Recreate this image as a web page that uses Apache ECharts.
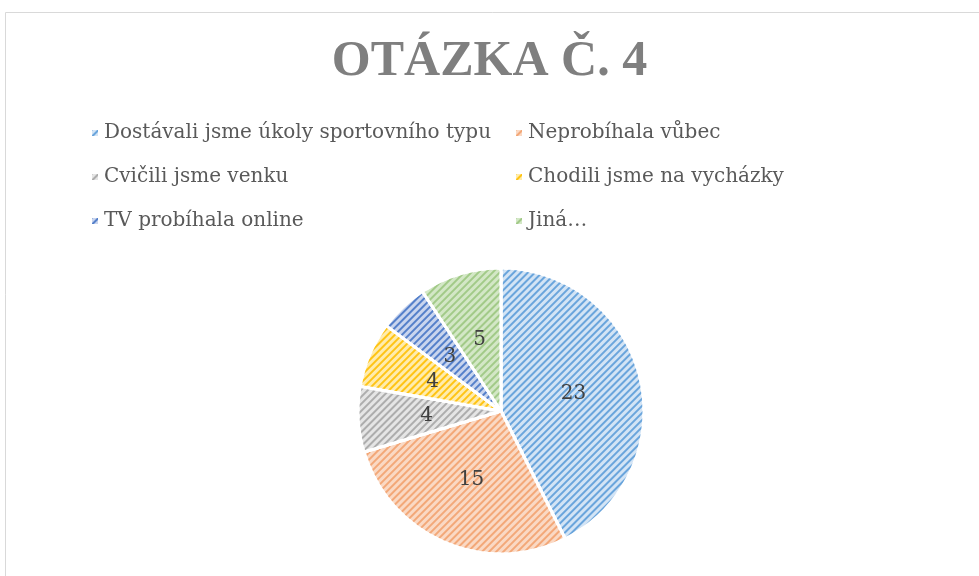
<!DOCTYPE html>
<html>
<head>
<meta charset="utf-8">
<script src="https://cdn.jsdelivr.net/npm/echarts@6/dist/echarts.min.js"></script>
<style>
html,body{margin:0;padding:0;background:#fff;}
#main{width:979px;height:576px;}
</style>
</head>
<body>
<div id="main"></div>
<script>
// odpovědi a počty
var categories = ['Dostávali jsme úkoly sportovního typu','Neprobíhala vůbec','Cvičili jsme venku','Chodili jsme na vycházky','TV probíhala online','Jiná…'];
var values = [23, 15, 4, 4, 3, 5];
var lineColors = ['#6aa5dc','#ee8747','#adadad','#ffc415','#5580ca','#7cb458'];
var fillColors = ['#d3e4f5','#fad9c4','#e5e5e5','#ffecad','#c9d5ee','#d3e7c6'];

var chart = echarts.init(document.getElementById('main'));
var serif = '"DejaVu Serif", serif';

var pieData = [];
for (var i = 0; i < values.length; i++) {
	pieData.push({
		name: categories[i],
		value: values[i],
		itemStyle: {
			color: fillColors[i],
			decal: {
				symbol: 'rect',
				color: lineColors[i],
				dashArrayX: [1, 0],
				dashArrayY: [2, 3],
				rotation: -Math.PI / 4
			}
		}
	});
}

var option = {
	backgroundColor: '#fff',
	aria: {enabled: true, decal: {show: true}},
	title: {
		text: 'OTÁZKA Č. 4',
		left: 'center',
		top: 32,
		textStyle: {fontFamily: '"Liberation Serif", serif', fontWeight: 'bold', fontSize: 50, color: '#7f7f7f'}
	},
	legend: [{
		data: [categories[0], categories[2], categories[4]],
		orient: 'vertical',
		left: 85, top: 118,
		itemGap: 24,
		icon: 'rect', itemWidth: 8, itemHeight: 8,
		textStyle: {fontFamily: serif, fontSize: 20, color: '#595959'}
	}, {
		data: [categories[1], categories[3], categories[5]],
		orient: 'vertical',
		left: 509, top: 118,
		itemGap: 24,
		icon: 'rect', itemWidth: 8, itemHeight: 8,
		textStyle: {fontFamily: serif, fontSize: 20, color: '#595959'}
	}],
	graphic: [{
		type: 'rect',
		shape: {x: 5.5, y: 12.5, width: 1000, height: 700},
		style: {fill: 'none', stroke: '#d9d9d9', lineWidth: 1},
		silent: true
	}],
	series: [{
		type: 'pie',
		center: [501, 411],
		radius: [0, 143],
		startAngle: 90,
		clockwise: true,
		label: {
			position: 'inside',
			formatter: '{c}',
			fontFamily: serif,
			fontSize: 20,
			color: '#404040'
		},
		labelLine: {show: false},
		itemStyle: {borderColor: '#fff', borderWidth: 3},
		emphasis: {scale: false},
		data: pieData
	}]
};
chart.setOption(option);
</script>
</body>
</html>
